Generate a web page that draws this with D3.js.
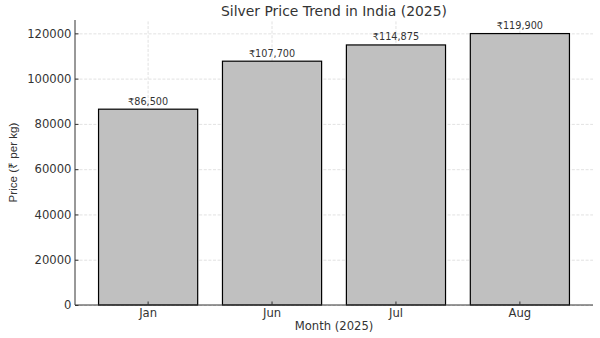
<!DOCTYPE html>
<html>
<head>
<meta charset="utf-8">
<script src="https://cdn.jsdelivr.net/npm/d3@7"></script>
<style>
  body { margin: 0; background: #fff; }
  svg { display: block; }
  .tick text { font-family: "DejaVu Sans", sans-serif; font-size: 11.6px; fill: #333; }
  .grid line { stroke: #dadada; stroke-dasharray: 3,1.6; stroke-width: 0.8; }
  .grid path { display: none; }
</style>
</head>
<body>
<svg></svg>
<script>
let width = 600
let height = 338
let margin = { top: 20, right: 7, bottom: 33, left: 75 }

// data
let months = ["Jan", "Jun", "Jul", "Aug"]
let prices = [86500, 107700, 114875, 119900]
let priceLabels = ["₹86,500", "₹107,700", "₹114,875", "₹119,900"]
let yTicks = [0, 20000, 40000, 60000, 80000, 100000, 120000]

let svg = d3.select("svg")
    .attr("width", width)
    .attr("height", height)

let innerW = width - margin.left - margin.right
let innerH = height - margin.top - margin.bottom

let g = svg.append("g")
    .attr("transform", "translate(" + margin.left + "," + margin.top + ")")

let xScale = d3.scaleBand()
    .domain(months)
    .range([0, innerW])
    .paddingInner(0.2)
    .paddingOuter(0.19)

// matplotlib style 5% headroom above the tallest bar
let yScale = d3.scaleLinear()
    .domain([0, d3.max(prices) * 1.05])
    .range([innerH, 0])

// grid lines
g.append("g")
    .attr("class", "grid")
    .call(d3.axisLeft(yScale).tickValues(yTicks).tickSize(-innerW).tickFormat(""))

g.append("g")
    .attr("class", "grid")
    .attr("transform", "translate(0," + innerH + ")")
    .call(d3.axisBottom(xScale).tickSize(-innerH).tickFormat(""))

// bars
g.selectAll("rect.bar")
    .data(prices)
    .enter()
    .append("rect")
    .attr("class", "bar")
    .attr("x", (d, i) => xScale(months[i]))
    .attr("y", (d) => yScale(d))
    .attr("width", xScale.bandwidth())
    .attr("height", (d) => innerH - yScale(d))
    .attr("fill", "#c0c0c0")
    .attr("stroke", "#000")
    .attr("stroke-width", 1.2)

// value labels above bars
g.selectAll("text.val")
    .data(prices)
    .enter()
    .append("text")
    .attr("class", "val")
    .attr("x", (d, i) => xScale(months[i]) + xScale.bandwidth() / 2)
    .attr("y", (d) => yScale(d) - 4.5)
    .attr("text-anchor", "middle")
    .style("font-family", "DejaVu Sans, sans-serif")
    .style("font-size", "9.7px")
    .style("fill", "#333")
    .text((d, i) => priceLabels[i])

// axes, ticks point inward like the original
let xAxis = g.append("g")
    .attr("transform", "translate(0," + innerH + ")")
    .call(d3.axisBottom(xScale).tickSize(-3.5).tickPadding(3.5))

let yAxis = g.append("g")
    .call(d3.axisLeft(yScale).tickValues(yTicks).tickFormat(d3.format("d")).tickSize(-3.5).tickPadding(3.5))

xAxis.select(".domain").attr("d", "M0,0H" + innerW)
yAxis.select(".domain").attr("d", "M0," + innerH + "V0")

svg.selectAll(".domain").attr("stroke", "#333").attr("stroke-width", 1)
xAxis.selectAll(".tick line").attr("stroke", "#333")
yAxis.selectAll(".tick line").attr("stroke", "#333")

// title and axis labels
svg.append("text")
    .attr("x", margin.left + innerW / 2)
    .attr("y", 16)
    .attr("text-anchor", "middle")
    .style("font-family", "DejaVu Sans, sans-serif")
    .style("font-size", "13.9px")
    .style("fill", "#333")
    .text("Silver Price Trend in India (2025)")

svg.append("text")
    .attr("x", margin.left + innerW / 2)
    .attr("y", 330)
    .attr("text-anchor", "middle")
    .style("font-family", "DejaVu Sans, sans-serif")
    .style("font-size", "11.6px")
    .style("fill", "#333")
    .text("Month (2025)")

svg.append("text")
    .attr("transform", "translate(17," + (margin.top + innerH / 2) + ") rotate(-90)")
    .attr("text-anchor", "middle")
    .style("font-family", "Liberation Sans, sans-serif")
    .style("font-size", "11.6px")
    .style("fill", "#333")
    .text("Price (₹ per kg)")
</script>
</body>
</html>
